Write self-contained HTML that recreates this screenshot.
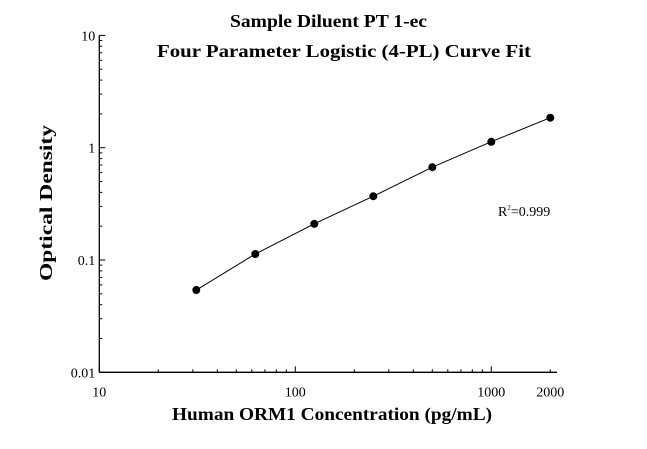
<!DOCTYPE html>
<html><head><meta charset="utf-8"><style>
body{margin:0;background:#fff;}
svg text{font-family:"Liberation Serif",serif;fill:#000;}
</style></head><body>
<svg width="647" height="444" viewBox="0 0 647 444" xmlns="http://www.w3.org/2000/svg">
<text x="328.5" y="27" font-size="18" font-weight="bold" text-anchor="middle" textLength="197" lengthAdjust="spacingAndGlyphs">Sample Diluent PT 1-ec</text>
<text x="344" y="57" font-size="18" font-weight="bold" text-anchor="middle" textLength="374" lengthAdjust="spacingAndGlyphs">Four Parameter Logistic (4-PL) Curve Fit</text>
<text transform="translate(52,203) rotate(-90)" font-size="18" font-weight="bold" text-anchor="middle" textLength="156" lengthAdjust="spacingAndGlyphs">Optical Density</text>
<text x="332" y="420" font-size="18" font-weight="bold" text-anchor="middle" textLength="320" lengthAdjust="spacingAndGlyphs">Human ORM1 Concentration (pg/mL)</text>
<text x="498" y="216" font-size="14">R<tspan font-size="7" dy="-6">2</tspan><tspan dy="6">=0.999</tspan></text>
<g id="axes"></g>
<g id="marks"></g>
</svg>
<script>
const concentrations=[31.25,62.5,125,250,500,1000,2000];
const odValues=[0.054,0.113,0.21,0.37,0.67,1.13,1.85];
const xTickLabels=["10","100","1000","2000"];
const yTickLabels=["0.01","0.1","1","10"];
const NS="http://www.w3.org/2000/svg";
const X0=99.3,XD=196,Y0=372.3,YD=112.3,XR=557,YT=35.3;
function xs(v){return X0+(Math.log10(v)-1)*XD;}
function ys(v){return Y0-(Math.log10(v)+2)*YD;}
function mk(t,a,p){const e=document.createElementNS(NS,t);for(const k in a)e.setAttribute(k,a[k]);p.appendChild(e);return e;}
const ax=document.getElementById('axes');
const xa=mk('line',{x1:X0,y1:Y0,x2:XR,y2:Y0,stroke:'#000','stroke-width':1.3},ax);

const ya=mk('line',{x1:X0,y1:Y0,x2:X0,y2:YT,stroke:'#000','stroke-width':1.3},ax);

for(let d=1;d<=3;d++){for(let m=1;m<=9;m++){const v=m*Math.pow(10,d);if(v>2000)break;const x=xs(v);const L=m==1?6:3;
 mk('line',{x1:x,y1:Y0,x2:x,y2:Y0-L,stroke:'#000','stroke-width':1},ax);}}
for(let d=-2;d<=1;d++){for(let m=1;m<=9;m++){const v=m*Math.pow(10,d);if(v>10)break;const y=ys(v);const L=m==1?6:3;
 mk('line',{x1:X0,y1:y,x2:X0+L,y2:y,stroke:'#000','stroke-width':1},ax);}}
xTickLabels.forEach(l=>{const t=mk('text',{x:xs(+l),y:Y0+24,'font-size':14,'text-anchor':'middle'},ax);t.textContent=l;
 });
yTickLabels.forEach(l=>{const t=mk('text',{x:X0-4,y:ys(+l)+5,'font-size':14,'text-anchor':'end'},ax);t.textContent=l;
 });
const g=document.getElementById('marks');
const pts=concentrations.map((c,i)=>xs(c).toFixed(1)+','+ys(odValues[i]).toFixed(1)).join(' ');
const ln=mk('polyline',{points:pts,fill:'none',stroke:'#000','stroke-width':1},g);

concentrations.forEach((c,i)=>{const p=mk('circle',{cx:xs(c),cy:ys(odValues[i]),r:4,fill:'#000'},g);
 });
</script>
</body></html>
